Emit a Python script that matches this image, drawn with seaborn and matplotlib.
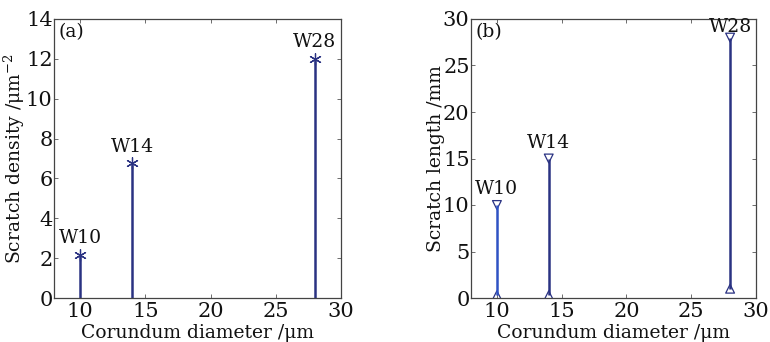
import numpy as np
import pandas as pd
import matplotlib
matplotlib.use("Agg")
import matplotlib.pyplot as plt
import seaborn as sns

# data
grades = ["W10", "W14", "W28"]
diameter = [10, 14, 28]
density = [2.15, 6.75, 12.0]
length_min = [0.3, 0.3, 1.0]
length_max = [10.0, 15.0, 28.0]

sns.set_style("white")
plt.rcParams["font.family"] = ["DejaVu Serif"]
plt.rcParams["mathtext.fontset"] = "dejavuserif"
plt.rcParams["font.size"] = 13

navy = "#2a3282"
blue = "#2f52c4"
ink = "#111111"

fig = plt.figure(figsize=(7.7, 3.42), dpi=100)
ax1 = fig.add_axes([54 / 770, 44 / 342, 287 / 770, 279 / 342])
ax2 = fig.add_axes([471 / 770, 44 / 342, 285 / 770, 279 / 342])

df_a = pd.DataFrame({"d": diameter, "v": density, "g": grades})
df_b = pd.DataFrame({"d": diameter, "lo": length_min, "hi": length_max, "g": grades})

# (a) stems with asterisk markers
ax1.vlines(df_a["d"], 0, df_a["v"], color=navy, lw=1.8)
sns.scatterplot(data=df_a, x="d", y="v", ax=ax1, marker=(6, 2, 0), s=70,
                color=navy, linewidth=0.9, legend=False)
for _, r in df_a.iterrows():
    ax1.text(r["d"], r["v"] + 0.4, r["g"], ha="center", va="bottom",
             fontsize=13.5, color=ink)
ax1.set_xlim(8, 30)
ax1.set_ylim(0, 14)
ax1.set_xticks([10, 15, 20, 25, 30])
ax1.set_yticks(np.arange(0, 15, 2))
ax1.set_xlabel("Corundum diameter /μm", fontsize=13.5, color=ink)
ax1.set_ylabel("Scratch density /μm$^{-2}$", fontsize=13.5, color=ink)
ax1.xaxis.set_label_coords(0.5, -0.093)
ax1.yaxis.set_label_coords(-0.095, 0.5)
ax1.text(0.015, 0.985, "(a)", transform=ax1.transAxes, ha="left", va="top",
         fontsize=13.5, color=ink)

# (b) ranges with triangle markers
stem_cols = [blue, navy, navy]
ax2.vlines(df_b["d"], df_b["lo"], df_b["hi"], colors=stem_cols, lw=1.8)
sns.scatterplot(data=df_b, x="d", y="hi", ax=ax2, marker="v", s=40,
                facecolor="none", edgecolor=navy, linewidth=0.9, legend=False)
sns.scatterplot(data=df_b, x="d", y="lo", ax=ax2, marker="^", s=40,
                facecolor="none", edgecolor=navy, linewidth=0.9, legend=False)
for _, r in df_b.iterrows():
    ax2.text(r["d"], min(r["hi"] + 0.7, 28.2), r["g"], ha="center", va="bottom",
             fontsize=13.5, color=ink)
ax2.set_xlim(8, 30)
ax2.set_ylim(0, 30)
ax2.set_xticks([10, 15, 20, 25, 30])
ax2.set_yticks(np.arange(0, 31, 5))
ax2.set_xlabel("Corundum diameter /μm", fontsize=13.5, color=ink)
ax2.set_ylabel("Scratch length /mm", fontsize=13.5, color=ink)
ax2.xaxis.set_label_coords(0.5, -0.093)
ax2.yaxis.set_label_coords(-0.09, 0.5)
ax2.text(0.015, 0.985, "(b)", transform=ax2.transAxes, ha="left", va="top",
         fontsize=13.5, color=ink)

for ax in (ax1, ax2):
    for sp in ax.spines.values():
        sp.set_visible(True)
        sp.set_color("#444444")
        sp.set_linewidth(0.9)
    ax.tick_params(direction="in", length=3, width=0.6, colors="#555555",
                   labelcolor=ink, labelsize=15,
                   top=True, right=True, bottom=True, left=True)
    ax.tick_params(axis="y", pad=1)
    ax.tick_params(axis="x", pad=3)

fig.savefig("out.png", dpi=100)
